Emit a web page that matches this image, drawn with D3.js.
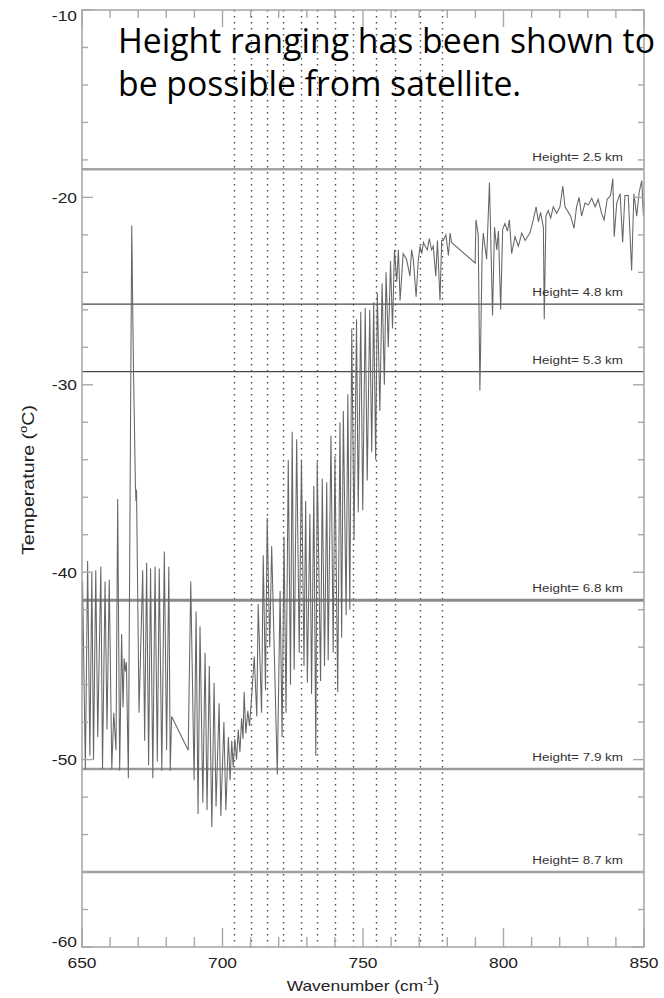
<!DOCTYPE html>
<html>
<head>
<meta charset="utf-8">
<script src="https://cdn.jsdelivr.net/npm/d3@7"></script>
<style>
  html, body { margin: 0; padding: 0; background: #fff; }
  svg { display: block; }
</style>
</head>
<body>
<svg id="chart" width="664" height="998"></svg>
<script>
// Brightness-temperature spectrum (wavenumber in cm^-1, temperature in °C)
const wavenumber = [
  650.0, 650.2, 651.2, 652.0, 652.8, 653.5, 654.1, 654.9, 655.6, 656.7,
  657.3, 658.2, 658.9, 659.7, 660.6, 661.3, 662.1, 662.7, 663.4, 664.1,
  664.6, 665.0, 665.4, 665.8, 666.5, 667.7, 668.3, 669.0, 669.2, 669.4,
  670.3, 671.6, 672.3, 673.0, 673.7, 674.4, 675.2, 676.0, 676.8, 677.5,
  678.4, 679.3, 680.1, 680.9, 681.4, 681.9, 687.8,
  688.7, 689.9, 690.6, 691.3, 692.0, 693.0, 693.8, 694.5, 695.3, 696.2,
  697.0, 697.7, 698.8, 699.4, 700.5, 701.2, 702.1, 702.7, 703.3, 703.8,
  704.4, 705.0, 705.6, 706.2, 706.8, 707.3, 707.7, 708.3, 709.0, 709.6,
  710.3, 711.3, 712.2, 712.7, 713.9, 714.5, 715.3, 715.9, 716.8, 717.5,
  719.5, 720.5, 721.2, 721.9, 722.6, 723.4, 724.2, 724.8, 725.5, 726.4,
  727.3, 728.1, 729.0, 729.6, 730.2, 731.1, 731.7, 732.5, 733.2, 733.7,
  734.9, 735.5, 736.3, 737.1, 737.6, 738.6, 739.4, 740.0, 741.0, 741.8,
  742.4, 743.0, 744.0, 744.6, 745.3, 746.0,
  746.8, 747.7, 748.3, 749.2, 749.9, 750.8, 751.5, 752.4, 753.1, 753.8,
  754.5, 755.1, 756.0, 756.8, 757.6, 758.2, 759.0, 759.8, 760.5, 761.2,
  762.0, 762.6, 763.2, 764.3, 765.5, 766.7, 767.3, 767.9, 768.9, 769.7,
  770.3, 770.9, 771.5, 772.1, 772.9, 773.6, 774.4, 775.0, 775.9, 776.5,
  777.4, 778.0, 778.6, 779.5, 780.4, 781.0, 781.5,
  789.9, 790.2, 791.0, 791.6, 792.4, 792.8, 794.0, 795.0, 796.1, 796.8,
  797.6, 798.2, 799.0, 799.7, 800.5, 801.4, 802.1, 802.9, 804.1, 805.3,
  806.5, 807.7, 809.4, 810.6, 811.6, 812.4, 813.2, 814.2, 814.5, 815.1,
  815.9, 816.8, 817.7, 818.9, 820.1, 821.1, 821.9, 823.1, 823.9, 825.1,
  826.0, 826.9, 827.8, 829.0, 830.2, 831.4, 832.6, 833.7, 834.9, 835.8,
  836.9, 838.1, 838.9, 839.4, 840.3, 841.5, 842.4, 843.2, 844.4, 845.6,
  846.4, 847.4, 848.3, 849.2, 849.8, 850.0
];
const temperature = [
  -46.0, -40.5, -50.5, -39.4, -49.8, -40.0, -50.0, -39.9, -48.8, -39.7,
  -50.5, -40.5, -48.4, -40.4, -50.5, -47.5, -49.5, -36.1, -50.6, -43.3,
  -47.2, -44.6, -45.3, -44.8, -51.0, -21.5, -29.0, -35.3, -36.2, -35.6,
  -47.5, -39.9, -49.0, -39.5, -50.3, -39.8, -51.0, -39.7, -50.1, -39.8,
  -50.6, -38.9, -49.5, -39.7, -50.6, -47.7, -49.5,
  -40.5, -51.1, -42.1, -52.9, -42.9, -52.3, -44.3, -52.7, -45.0, -53.6,
  -45.9, -52.5, -47.0, -53.0, -48.0, -52.7, -48.8, -51.1, -49.0, -50.4,
  -48.9, -50.0, -48.4, -49.6, -47.8, -48.9, -46.4, -48.6, -47.4, -48.2,
  -46.8, -44.5, -47.7, -41.7, -47.5, -39.1, -46.3, -37.1, -44.0, -38.6,
  -50.8, -41.0, -48.8, -38.1, -47.5, -34.0, -46.0, -32.5, -45.2, -32.9,
  -44.3, -34.0, -45.0, -36.2, -45.9, -36.9, -46.5, -35.4, -49.8, -34.1,
  -45.8, -35.0, -45.0, -35.2, -44.7, -32.7, -44.3, -33.8, -46.4, -32.0,
  -43.5, -31.4, -42.3, -30.5, -42.0, -27.0,
  -38.3, -26.5, -36.8, -26.1, -36.7, -25.9, -35.1, -26.0, -33.6, -25.6,
  -34.0, -25.1, -31.4, -24.6, -30.0, -24.0, -28.0, -23.4, -27.0, -22.8,
  -24.5, -22.8, -25.5, -23.0, -23.3, -24.2, -22.8, -23.3, -25.3, -23.3,
  -22.6, -23.0, -22.4, -22.6, -22.8, -22.2, -22.8, -22.6, -24.2, -22.3,
  -25.5, -22.3, -22.3, -22.0, -23.1, -21.9, -22.4,
  -23.5, -21.2, -22.0, -30.3, -23.0, -21.9, -23.3, -19.2, -26.3, -21.6,
  -22.8, -21.8, -26.0, -21.7, -21.4, -21.8, -21.2, -23.0, -22.1, -22.6,
  -21.9, -22.3, -21.9, -21.2, -20.5, -21.3, -20.8, -21.6, -26.5, -21.0,
  -20.7, -21.1, -20.5, -20.85, -20.5, -19.4, -20.5, -20.8, -21.0, -21.65,
  -20.5, -20.0, -21.0, -20.3, -20.4, -20.05, -20.5, -20.1, -20.85, -21.2,
  -20.1, -19.9, -19.0, -22.1, -20.3, -19.8, -22.4, -19.9, -19.9, -23.9,
  -19.8, -21.0, -19.7, -19.1, -21.0, -20.2
];

// Reference levels (temperature at each height)
const heightKm = ["2.5", "4.8", "5.3", "6.8", "7.9", "8.7"];
const heightTemp = [-18.5, -25.7, -29.3, -41.5, -50.5, -56.0];

// Selected channel wavenumbers (dotted markers)
const channelWavenumbers = [704, 710, 716, 721.7, 727.8, 733.8, 740, 746.4, 754.5, 761.5, 770.2, 778.2];

// Axis ticks
const xTickValues = [650, 700, 750, 800, 850];
const yTickValues = [-60, -50, -40, -30, -20, -10];

// Title lines
const titleLines = ["Height ranging has been shown to", "be possible from satellite."];

// ---- layout ----
const plot = { left: 82, right: 644, top: 10, bottom: 947 };
const svg = d3.select("#chart");
const x = d3.scaleLinear().domain([650, 850]).range([plot.left, plot.right]);
const y = d3.scaleLinear().domain([-60, -10]).range([plot.bottom, plot.top]);

const frameColor = "#a8a8a8";
const textColor = "#222";
const stretch = 1.16; // horizontal widening of the chart lettering

function label(g, px, py, str, size, anchor, sx) {
  return g.append("text")
    .attr("transform", `translate(${px},${py}) scale(${sx},1)`)
    .attr("text-anchor", anchor)
    .attr("font-family", "'Liberation Sans', Arial, Helvetica, sans-serif")
    .attr("font-size", size)
    .attr("fill", textColor)
    .text(str);
}

// Dotted channel markers
svg.append("g").selectAll("line")
  .data(channelWavenumbers)
  .join("line")
  .attr("x1", d => Math.round(x(d)) + 0.5).attr("x2", d => Math.round(x(d)) + 0.5)
  .attr("y1", plot.top).attr("y2", plot.bottom)
  .attr("stroke", "#4a4a4a")
  .attr("stroke-width", 1.4)
  .attr("stroke-dasharray", "1.5,4.5");

// Height reference lines
const levelStroke = ["#a4a4a4", "#4a4a4a", "#4a4a4a", "#8a8a8a", "#9a9a9a", "#a0a0a0"];
const levelWidth = [2.6, 1.3, 1.3, 3, 2.6, 2.4];
const levels = svg.append("g");
heightTemp.forEach((t, i) => {
  levels.append("line")
    .attr("x1", plot.left).attr("x2", plot.right)
    .attr("y1", y(t)).attr("y2", y(t))
    .attr("stroke", levelStroke[i])
    .attr("stroke-width", levelWidth[i]);
});

// Spectrum
const line = d3.line().x((d, i) => x(wavenumber[i])).y(d => y(d));
svg.append("path")
  .datum(temperature)
  .attr("d", line)
  .attr("fill", "none")
  .attr("stroke", "#666")
  .attr("stroke-width", 1.05)
  .attr("stroke-linejoin", "miter");

// Height labels
heightTemp.forEach((t, i) => {
  label(svg, 623, y(t) - 8, `Height= ${heightKm[i]} km`, 11.5, "end", 1.17).attr("fill", "#333");
});

// Frame
svg.append("rect")
  .attr("x", plot.left).attr("y", plot.top)
  .attr("width", plot.right - plot.left).attr("height", plot.bottom - plot.top)
  .attr("fill", "none").attr("stroke", frameColor).attr("stroke-width", 1.6);

// Ticks (inward on all four sides)
const ticks = svg.append("g").attr("stroke", frameColor).attr("stroke-width", 1.4);
const xMinor = d3.range(650, 851, 10);
xMinor.forEach(v => {
  const major = v % 50 === 0;
  const px = x(v);
  ticks.append("line").attr("x1", px).attr("x2", px)
    .attr("y1", plot.bottom).attr("y2", plot.bottom - (major ? 19 : 10));
  ticks.append("line").attr("x1", px).attr("x2", px)
    .attr("y1", plot.top).attr("y2", plot.top + (major ? 17 : 8));
});
const yMinor = d3.range(-60, -9, 2);
yMinor.forEach(v => {
  const major = v % 10 === 0;
  const py = y(v);
  ticks.append("line").attr("x1", plot.left).attr("x2", plot.left + (major ? 11 : 6))
    .attr("y1", py).attr("y2", py);
  ticks.append("line").attr("x1", plot.right).attr("x2", plot.right - (major ? 11 : 6))
    .attr("y1", py).attr("y2", py);
});

// Tick labels
xTickValues.forEach(v => {
  label(svg, x(v), 968, String(v), 15, "middle", stretch);
});
yTickValues.forEach(v => {
  let py = y(v) + 5.5;
  if (v === -10) py = y(v) + 10.5;
  if (v === -60) py = y(v);
  label(svg, 77, py, String(v), 15, "end", stretch);
});

// Axis titles
const xt = label(svg, 363, 991, "", 15, "middle", stretch);
xt.append("tspan").text("Wavenumber (cm");
xt.append("tspan").attr("font-size", 10).attr("dy", -6).text("-1");
xt.append("tspan").attr("dy", 6).text(")");

const yt = svg.append("text")
  .attr("transform", `translate(34,480) rotate(-90) scale(1,${stretch})`)
  .attr("text-anchor", "middle")
  .attr("font-family", "'Liberation Sans', Arial, Helvetica, sans-serif")
  .attr("font-size", 15)
  .attr("fill", textColor);
yt.append("tspan").text("Temperature (");
yt.append("tspan").attr("font-size", 10).attr("dy", -6).text("o");
yt.append("tspan").attr("dy", 6).text("C)");
const ytLen = yt.node().getComputedTextLength();
yt.attr("transform", `translate(34,480) rotate(-90) scale(${150 / ytLen},${stretch})`);

// Title
const title = svg.append("g");
const t1 = title.append("text")
  .attr("x", 118).attr("y", 53)
  .attr("font-family", "'Open Sans', 'Noto Sans', sans-serif")
  .attr("font-size", 30).attr("fill", "#000")
  .text(titleLines[0]);
const fitSize = 30 * 537 / t1.node().getComputedTextLength();
t1.attr("font-size", fitSize);
title.append("text")
  .attr("x", 118).attr("y", 96)
  .attr("font-family", "'Open Sans', 'Noto Sans', sans-serif")
  .attr("font-size", fitSize).attr("fill", "#000")
  .text(titleLines[1]);
</script>
</body>
</html>
